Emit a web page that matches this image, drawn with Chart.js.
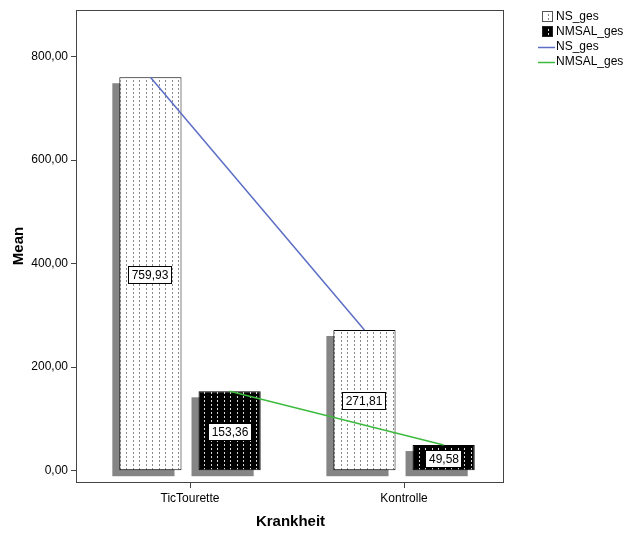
<!DOCTYPE html>
<html lang="de">
<head>
<meta charset="UTF-8">
<title>Mean nach Krankheit</title>
<script src="https://cdn.jsdelivr.net/npm/chart.js"></script>
<style>
  html, body { margin: 0; padding: 0; background: #fff; }
</style>
</head>
<body>
<canvas id="chartCanvas" width="630" height="534"></canvas>
<script>
// chart values
const categories = ['TicTourette', 'Kontrolle'];
const nsGes = [759.93, 271.81];
const nmsalGes = [153.36, 49.58];
const yTicks = [0, 200, 400, 600, 800];

const CAT_PCT = 0.74;
const BAR_PCT = 0.785;
const FONT = "Arial, 'Liberation Sans', sans-serif";
const blue = '#5b6ec4';
const green = '#3dbb3d';

const fmt = v => v.toFixed(2).replace('.', ',');

// dotted fill tiles (SPSS style)
function dotTile(bg, dot) {
    const c = document.createElement('canvas');
    c.width = 13; c.height = 4;
    const g = c.getContext('2d');
    g.fillStyle = bg; g.fillRect(0, 0, 13, 4);
    g.fillStyle = dot;
    g.fillRect(3, 0, 1, 2);
    g.fillRect(9, 0, 1, 2);
    return c;
}
const nsTile = dotTile('#ffffff', '#8a8a8a');
const nmsalTile = dotTile('#000000', '#d8d8d8');

const ctx = document.getElementById('chartCanvas').getContext('2d');
const nsFill = ctx.createPattern(nsTile, 'repeat');
const nmsalFill = ctx.createPattern(nmsalTile, 'repeat');

// legend icons
function legendIcon(draw) {
    const c = document.createElement('canvas');
    c.width = 57; c.height = 14;
    draw(c.getContext('2d'));
    return c;
}
function boxIcon(tile, border) {
    return legendIcon(g => {
        g.fillStyle = g.createPattern(tile, 'repeat');
        g.fillRect(42, 1, 11, 11);
        g.strokeStyle = border;
        g.lineWidth = 1;
        g.strokeRect(42.5, 1.5, 10, 10);
    });
}
function lineIcon(color) {
    return legendIcon(g => {
        g.strokeStyle = color;
        g.lineWidth = 1.5;
        g.beginPath();
        g.moveTo(38, 7.5);
        g.lineTo(55, 7.5);
        g.stroke();
    });
}
const icons = [boxIcon(nsTile, '#555'), boxIcon(nmsalTile, '#222'), lineIcon(blue), lineIcon(green)];

// grey drop shadows + plot frame
const shadowFrame = {
    id: 'shadowFrame',
    beforeDatasetsDraw(chart) {
        const c = chart.ctx;
        const a = chart.chartArea;
        c.save();
        c.fillStyle = '#858585';
        chart.data.datasets.forEach((ds, i) => {
            const meta = chart.getDatasetMeta(i);
            if (meta.type !== 'bar') return;
            meta.data.forEach(el => {
                const p = el.getProps(['x', 'y', 'base', 'width'], true);
                c.fillRect(p.x - p.width / 2 - 7, p.y + 6, p.width, p.base - p.y);
            });
        });
        c.strokeStyle = '#444';
        c.lineWidth = 1;
        c.strokeRect(Math.round(a.left) - 0.5, Math.round(a.top) + 0.5,
            Math.round(a.right) - Math.round(a.left), Math.round(a.bottom) - Math.round(a.top));
        c.restore();
    }
};

// boxed value labels in the middle of each bar
const valueLabels = {
    id: 'valueLabels',
    afterDatasetsDraw(chart) {
        const c = chart.ctx;
        c.save();
        c.font = '12px ' + FONT;
        c.textAlign = 'center';
        c.textBaseline = 'middle';
        chart.data.datasets.forEach((ds, i) => {
            const meta = chart.getDatasetMeta(i);
            if (meta.type !== 'bar') return;
            meta.data.forEach((el, j) => {
                const p = el.getProps(['x', 'y', 'base'], true);
                const txt = fmt(ds.data[j].y);
                const w = Math.round(c.measureText(txt).width + 7);
                const h = 18;
                const cx = Math.round(p.x);
                const cy = Math.round((p.y + p.base) / 2) + 1;
                const left = cx - Math.round(w / 2);
                const top = cy - h / 2;
                c.fillStyle = '#fff';
                c.fillRect(left, top, w, h);
                c.strokeStyle = '#000';
                c.lineWidth = 1;
                c.strokeRect(left + 0.5, top + 0.5, w - 1, h - 1);
                c.fillStyle = '#000';
                c.fillText(txt, cx, cy + 1);
            });
        });
        c.restore();
    }
};

const barData = arr => arr.map((v, i) => ({ x: i, y: v }));
const lineData = (arr, shift) => arr.map((v, i) => ({ x: i + shift, y: v }));

new Chart(ctx, {
    type: 'bar',
    data: {
        datasets: [{
            label: 'NS_ges',
            data: barData(nsGes),
            backgroundColor: nsFill,
            borderColor: '#000',
            borderWidth: 1,
            borderSkipped: false,
            categoryPercentage: CAT_PCT,
            barPercentage: BAR_PCT,
            order: 1
        }, {
            label: 'NMSAL_ges',
            data: barData(nmsalGes),
            backgroundColor: nmsalFill,
            borderColor: '#000',
            borderWidth: 1,
            borderSkipped: false,
            categoryPercentage: CAT_PCT,
            barPercentage: BAR_PCT,
            order: 1
        }, {
            type: 'line',
            label: 'NS_ges',
            data: lineData(nsGes, -CAT_PCT / 4),
            borderColor: blue,
            borderWidth: 1.5,
            pointRadius: 0,
            fill: false,
            order: 0
        }, {
            type: 'line',
            label: 'NMSAL_ges',
            data: lineData(nmsalGes, CAT_PCT / 4),
            borderColor: green,
            borderWidth: 1.5,
            pointRadius: 0,
            fill: false,
            order: 0
        }]
    },
    options: {
        responsive: false,
        animation: false,
        devicePixelRatio: 1,
        events: [],
        layout: { padding: { top: 8, right: 0, bottom: 0, left: 0 } },
        plugins: {
            tooltip: { enabled: false },
            legend: {
                position: 'right',
                align: 'start',
                maxWidth: 126,
                labels: {
                    usePointStyle: true,
                    pointStyleWidth: 43,
                    padding: 3,
                    color: '#000',
                    font: { family: FONT, size: 12 },
                    generateLabels: chart => chart.data.datasets.map((ds, i) => ({
                        text: ds.label,
                        pointStyle: icons[i],
                        datasetIndex: i,
                        hidden: false,
                        lineWidth: 0,
                        fillStyle: 'transparent',
                        strokeStyle: 'transparent',
                        fontColor: '#000'
                    }))
                }
            }
        },
        scales: {
            x: {
                type: 'linear',
                offset: false,
                min: -0.528,
                max: 1.467,
                afterBuildTicks: s => { s.ticks = categories.map((_, i) => ({ value: i })); },
                afterFit: s => { s.height = 52; },
                border: { display: false },
                grid: { offset: false, drawOnChartArea: false, drawTicks: true, tickLength: 6, color: '#444' },
                ticks: {
                    callback: (v, i) => categories[i],
                    autoSkip: false,
                    maxRotation: 0,
                    padding: 3,
                    color: '#000',
                    font: { family: FONT, size: 12 }
                },
                title: {
                    display: true,
                    text: 'Krankheit',
                    color: '#000',
                    font: { family: FONT, size: 15, weight: 'bold' },
                    padding: { top: 4, bottom: 3 }
                }
            },
            y: {
                min: -21.8,
                max: 889.8,
                afterBuildTicks: s => { s.ticks = yTicks.map(v => ({ value: v })); },
                afterFit: s => { s.width = 77; s.paddingTop = 10; },
                border: { display: false },
                grid: { drawOnChartArea: false, drawTicks: true, tickLength: 6, color: '#444' },
                ticks: {
                    callback: v => fmt(v),
                    padding: 3,
                    color: '#000',
                    font: { family: FONT, size: 12 }
                },
                title: {
                    display: true,
                    text: 'Mean',
                    color: '#000',
                    font: { family: FONT, size: 15, weight: 'bold' },
                    padding: { top: 10, bottom: 0 }
                }
            }
        }
    },
    plugins: [shadowFrame, valueLabels]
});
</script>
</body>
</html>
